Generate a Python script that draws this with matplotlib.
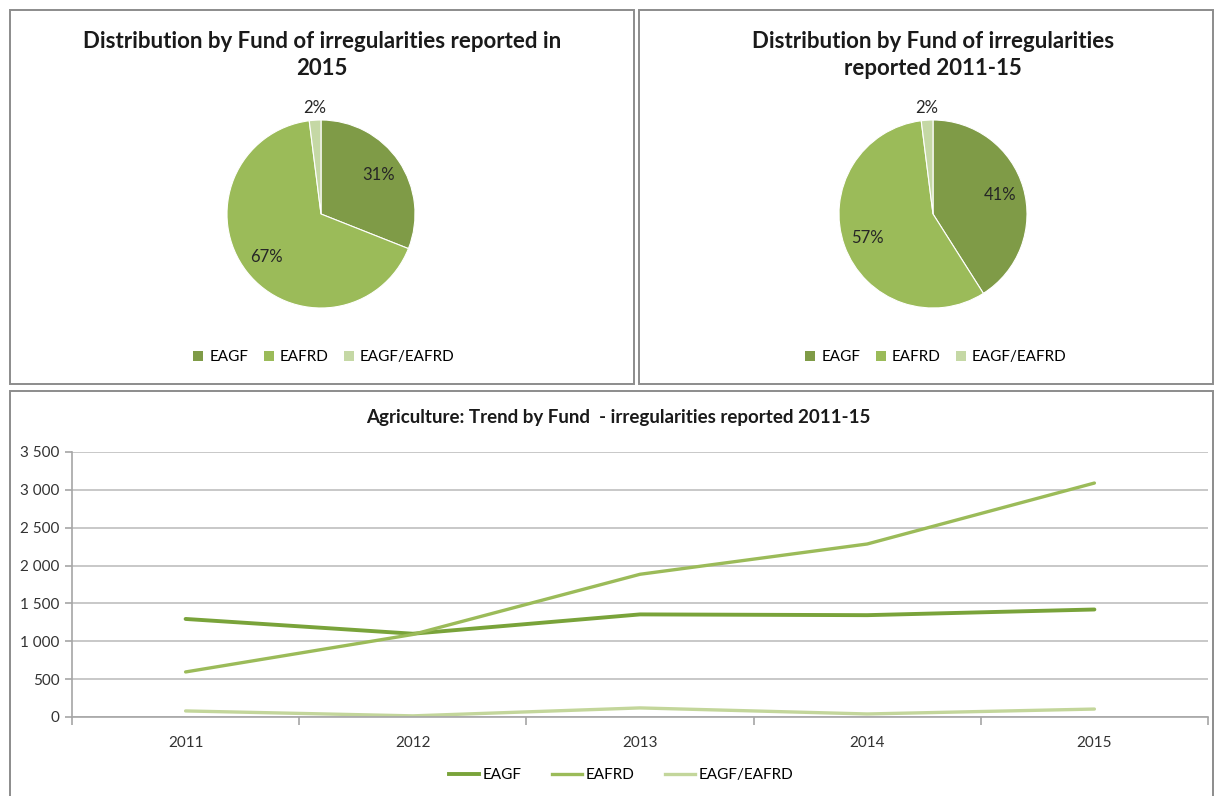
import matplotlib
matplotlib.use("Agg")
import matplotlib.pyplot as plt
from matplotlib.patches import Rectangle
from matplotlib.lines import Line2D
import numpy as np

plt.rcParams['font.family'] = ['Lato', 'DejaVu Sans']

funds = ["EAGF", "EAFRD", "EAGF/EAFRD"]
pie_2015 = [31, 67, 2]
pie_2011_15 = [41, 57, 2]
years = ["2011", "2012", "2013", "2014", "2015"]
eagf = [1295, 1100, 1355, 1345, 1420]
eafrd = [595, 1090, 1885, 2285, 3090]
both = [80, 15, 120, 40, 105]

pie_colors = ["#7F9B47", "#9BBB59", "#C5D8A5"]
line_colors = ["#79A33A", "#9BBB59", "#C3D69B"]
line_widths = [2.8, 2.4, 2.4]

W, H = 1215, 796
fig = plt.figure(figsize=(W / 100, H / 100), dpi=100)


def fx(x):
    return x / W


def fy(y):
    return 1 - y / H


# panel borders
for (x0, y0, x1, y1) in [(10, 10, 634, 384), (639, 10, 1213, 384), (10, 391, 1213, 800)]:
    fig.patches.append(Rectangle((fx(x0), fy(y1)), fx(x1 - x0), (y1 - y0) / H,
                                 transform=fig.transFigure, fill=False,
                                 edgecolor="#8C8C8C", linewidth=1.4))


def draw_pie(cx, cy, r, values, title, tx, ty):
    ax = fig.add_axes([fx(cx - r), fy(cy + r), 2 * r / W, 2 * r / H])
    wedges, texts, autotexts = ax.pie(values, colors=pie_colors, startangle=90,
                                      counterclock=False, autopct="%d%%",
                                      pctdistance=0.74,
                                      wedgeprops=dict(edgecolor="white", linewidth=0.8),
                                      textprops=dict(fontsize=12, color="#262626"))
    for w, t, v in zip(wedges, autotexts, values):
        t.set_text(f"{v}%")
        if v < 5:
            ang = np.deg2rad((w.theta1 + w.theta2) / 2)
            t.set_position((1.13 * np.cos(ang), 1.13 * np.sin(ang)))
    ax.set_xlim(-1, 1)
    ax.set_ylim(-1, 1)
    ax.set_aspect("auto")
    fig.text(fx(tx), fy(ty), title, ha="center", va="center", fontsize=16,
             fontweight="bold", color="#1A1A1A", linespacing=1.38)
    handles = [Rectangle((0, 0), 1, 1, facecolor=c, edgecolor="none") for c in pie_colors]
    fig.legend(handles, funds, loc="center", bbox_to_anchor=(fx(cx + 3), fy(357)),
               ncol=3, frameon=False, fontsize=11, handlelength=0.65, handleheight=0.65,
               handletextpad=0.4, columnspacing=1.0)


draw_pie(321, 214, 94, pie_2015,
         "Distribution by Fund of irregularities reported in\n2015", 322, 55)
draw_pie(933, 214, 94, pie_2011_15,
         "Distribution by Fund of irregularities\nreported 2011-15", 933, 55)

# line chart
ax = fig.add_axes([fx(72), fy(717), 1136 / W, 265 / H])
x = np.arange(len(years))
for vals, name, c, lw in zip([eagf, eafrd, both], funds, line_colors, line_widths):
    ax.plot(x, vals, color=c, linewidth=lw, label=name, solid_capstyle="round")
ax.set_xlim(-0.5, len(years) - 0.5)
ax.set_ylim(0, 3500)
ax.set_yticks(np.arange(0, 3501, 500))
ax.set_yticklabels([f"{v:,}".replace(",", " ") for v in range(0, 3501, 500)],
                   fontsize=11, color="#333333")
ax.set_xticks(x)
ax.set_xticklabels(years, fontsize=11, color="#333333")
ax.set_xticks(np.arange(-0.5, len(years), 1), minor=True)
ax.tick_params(axis="x", which="major", length=0, pad=14)
ax.tick_params(axis="x", which="minor", length=6, color="#A6A6A6", width=1.2)
ax.tick_params(axis="y", length=5, color="#A6A6A6", width=1.2, pad=4)
ax.grid(axis="y", color="#C8C8C8", linewidth=1.4)
ax.set_axisbelow(True)
for s in ["top", "right"]:
    ax.spines[s].set_visible(False)
for s in ["left", "bottom"]:
    ax.spines[s].set_color("#A6A6A6")
    ax.spines[s].set_linewidth(1.2)

fig.text(fx(618), fy(418), "Agriculture: Trend by Fund  - irregularities reported 2011-15",
         ha="center", va="center", fontsize=13.5, fontweight="bold", color="#1A1A1A")
fig.legend(handles=[Line2D([0], [0], color=c, lw=lw) for c, lw in zip(line_colors, line_widths)],
           labels=funds, loc="center", bbox_to_anchor=(fx(621), fy(775)), ncol=3,
           frameon=False, fontsize=11, handlelength=2.0, handletextpad=0.2, columnspacing=2.0)

fig.savefig("out.png", dpi=100)
